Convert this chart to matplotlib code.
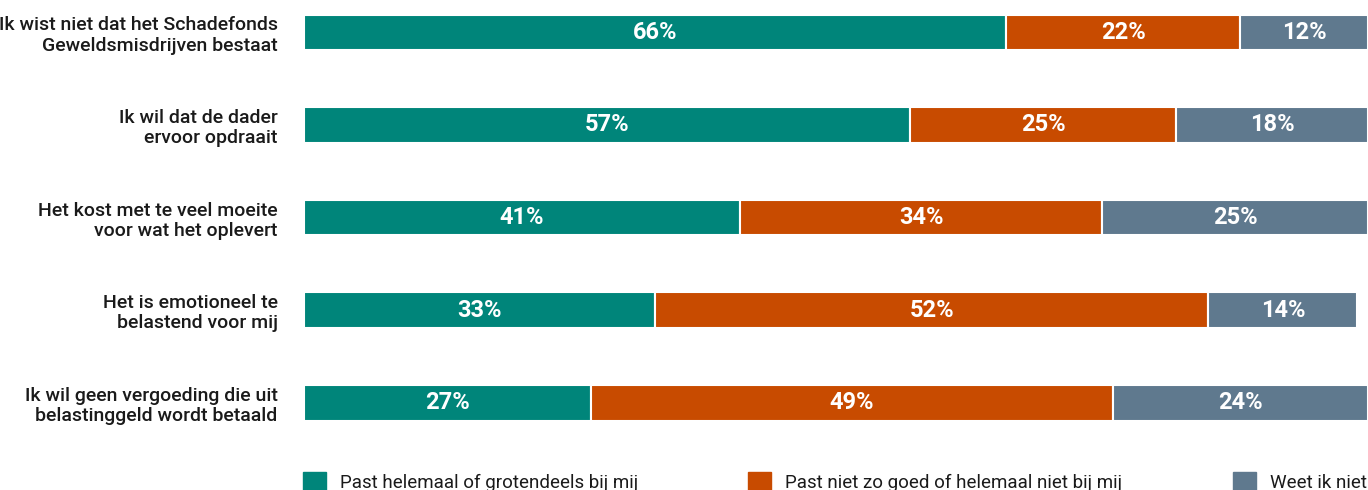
import matplotlib
matplotlib.use('Agg')
import matplotlib.pyplot as plt
from matplotlib.patches import Rectangle

categories = [
    "Ik wist niet dat het Schadefonds\nGeweldsmisdrijven bestaat",
    "Ik wil dat de dader\nervoor opdraait",
    "Het kost met te veel moeite\nvoor wat het oplevert",
    "Het is emotioneel te\nbelastend voor mij",
    "Ik wil geen vergoeding die uit\nbelastinggeld wordt betaald",
]
past_wel = [66, 57, 41, 33, 27]
past_niet = [22, 25, 34, 52, 49]
weet_niet = [12, 18, 25, 14, 24]

series_names = [
    "Past helemaal of grotendeels bij mij",
    "Past niet zo goed of helemaal niet bij mij",
    "Weet ik niet",
]
colors = ["#00857A", "#C84B00", "#5F798E"]

plt.rcParams['font.family'] = ['Roboto', 'DejaVu Sans']

fig = plt.figure(figsize=(13.68, 4.9), dpi=100)
ax = fig.add_axes([304 / 1368, 1 - 449 / 490, 1 - 304 / 1368, 449 / 490])

y = list(range(len(categories)))
left = [0] * len(categories)
for vals, col in zip([past_wel, past_niet, weet_niet], colors):
    bars = ax.barh(y, vals, left=left, height=0.385, color=col,
                   edgecolor='white', linewidth=1.5)
    for b, v in zip(bars, vals):
        ax.text(b.get_x() + b.get_width() / 2, b.get_y() + b.get_height() / 2,
                f"{v}%", ha='center', va='center', color='white',
                fontsize=17, fontweight='bold')
    left = [l + v for l, v in zip(left, vals)]

ax.set_xlim(0, 100)
ax.set_ylim(4.5, -0.35)
ax.set_yticks(y)
ax.set_yticklabels(categories, fontsize=14, color='#1a1a1a', fontweight='medium',
                   linespacing=1.15)
ax.tick_params(axis='y', length=0, pad=19)
ax.set_xticks([])
for s in ax.spines.values():
    s.set_visible(False)

# legend along the bottom edge
leg_x = [303, 748, 1233]
for x, name, col in zip(leg_x, series_names, colors):
    fig.add_artist(Rectangle((x / 1368, 0), 23 / 1368, 18 / 490,
                             transform=fig.transFigure, color=col))
    fig.text((x + 37) / 1368, 2 / 490, name, fontsize=13.5, color='#1a1a1a',
             ha='left', va='baseline')

fig.savefig('out.png', dpi=100)
